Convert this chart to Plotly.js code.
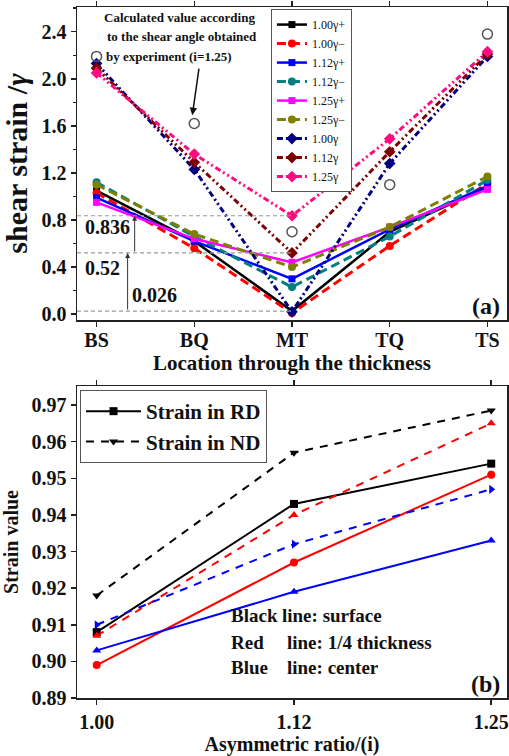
<!DOCTYPE html>
<html>
<head>
<meta charset="utf-8">
<script src="https://cdn.plot.ly/plotly-3.0.1.min.js"></script>
<style>html,body{margin:0;padding:0;background:#fff}#chart{width:509px;height:756px}</style>
</head>
<body>
<div id="chart"></div>
<script>
// ---- Panel (a) data ----
const locations = ['BS', 'BQ', 'MT', 'TQ', 'TS'];
const g100p = [1.05, 0.62, 0.026, 0.70, 1.08];
const g100m = [1.03, 0.56, 0.01, 0.58, 1.11];
const g112p = [0.99, 0.62, 0.30, 0.72, 1.09];
const g112m = [1.12, 0.66, 0.23, 0.66, 1.14];
const g125p = [0.95, 0.64, 0.44, 0.74, 1.06];
const g125m = [1.10, 0.68, 0.40, 0.74, 1.17];
const g100 = [2.13, 1.23, 0.02, 1.28, 2.19];
const g112 = [2.09, 1.29, 0.52, 1.38, 2.21];
const g125 = [2.05, 1.36, 0.836, 1.49, 2.23];
const calcExp = [2.19, 1.62, 0.70, 1.10, 2.38];
const seriesNames = ['1.00γ+', '1.00γ−', '1.12γ+', '1.12γ−', '1.25γ+', '1.25γ−', '1.00γ', '1.12γ', '1.25γ'];
const levels = [0.026, 0.52, 0.836];
const levelLabels = ['0.026', '0.52', '0.836'];

// ---- Panel (b) data ----
const ratios = ['1.00', '1.12', '1.25'];
const rdSurface = [0.908, 0.943, 0.954];
const rdQuarter = [0.899, 0.927, 0.951];
const rdCenter = [0.903, 0.919, 0.933];
const ndSurface = [0.918, 0.957, 0.9685];
const ndQuarter = [0.907, 0.940, 0.965];
const ndCenter = [0.910, 0.932, 0.947];

const FONT = 'Liberation Serif, Times New Roman, serif';
const dashDotDot = '6px,3px,2px,3px,2px,3px';

function line(y, name, color, dash, symbol, msize) {
  return {
    x: locations, y: y, name: name, type: 'scatter', mode: 'lines+markers',
    xaxis: 'x', yaxis: 'y', legend: 'legend',
    line: {color: color, width: dash === 'solid' ? 2.5 : 3, dash: dash},
    marker: {color: color, symbol: symbol, size: msize}
  };
}
const topSeries = [g100p, g100m, g112p, g112m, g125p, g125m, g100, g112, g125];
const colors = ['#000000', '#ff0000', '#0000ff', '#008080', '#ff00ff', '#808000', '#000080', '#800000', '#ff0a80'];
const dashes = ['solid', '9px,5px', 'solid', '9px,5px', 'solid', '9px,5px', dashDotDot, dashDotDot, dashDotDot];
const symbols = ['square', 'circle', 'square', 'circle', 'square', 'circle', 'diamond', 'diamond', 'diamond'];
const sizes = [7, 8, 7, 8, 7, 8, 9, 9, 9];
const traces = [];
for (let i = 8; i >= 0; i--) {
  traces.unshift(line(topSeries[i], seriesNames[i], colors[i], dashes[i], symbols[i], sizes[i]));
}
traces.push({
  x: locations, y: calcExp, type: 'scatter', mode: 'markers', showlegend: false,
  xaxis: 'x', yaxis: 'y',
  marker: {symbol: 'circle-open', size: 10, color: '#555555', line: {width: 1.5}}
});

function bline(y, color, dash, symbol, name, show) {
  return {
    x: ratios, y: y, type: 'scatter', mode: 'lines+markers', xaxis: 'x2', yaxis: 'y2',
    name: name, showlegend: show, legend: 'legend2',
    line: {color: color, width: 2, dash: dash},
    marker: {color: color, symbol: symbol, size: 8}
  };
}
traces.push(bline(rdSurface, '#000000', 'solid', 'square', 'Strain in RD', true));
traces.push(bline(ndSurface, '#000000', '8px,7px', 'triangle-down', 'Strain in ND', true));
traces.push(bline(rdQuarter, '#ff0000', 'solid', 'circle', '', false));
traces.push(bline(ndQuarter, '#ff0000', '8px,7px', 'triangle-up', '', false));
traces.push(bline(rdCenter, '#0000ff', 'solid', 'triangle-up', '', false));
traces.push(bline(ndCenter, '#0000ff', '8px,7px', 'triangle-right', '', false));

const axisCommon = {
  showline: true, linecolor: '#222', linewidth: 1.5, mirror: 'ticks',
  ticks: 'outside', ticklen: 5, tickwidth: 1.5, tickcolor: '#222',
  showgrid: false, zeroline: false,
  tickfont: {family: FONT, size: 20, weight: 'bold', color: '#111'}
};

const shapes = levels.map(v => ({
  type: 'line', xref: 'x', yref: 'y', x0: -0.2, x1: 2, y0: v, y1: v,
  line: {color: '#999999', width: 1.2, dash: '4px,3px'}
}));

const bold = (s, t, x, y, xa, extra) => Object.assign({
  text: t, x: x, y: y, xref: 'x', yref: 'y', showarrow: false, xanchor: xa || 'center',
  font: {family: FONT, size: s, weight: 'bold', color: '#111'}
}, extra || {});

const annotations = [
  bold(13, 'Calculated value according', 0.06, 2.52, 'left'),
  bold(13, 'to the shear angle obtained', 0.09, 2.36, 'left'),
  bold(13, 'by experiment (i=1.25)', 0.08, 2.19, 'left'),
  {x: 0.98, y: 1.69, xref: 'x', yref: 'y', ax: 1.05, ay: 2.10, axref: 'x', ayref: 'y',
   text: '', showarrow: true, arrowhead: 2, arrowsize: 1, arrowwidth: 1.5, arrowcolor: '#111'},
  {x: 0.318, y: levels[1], xref: 'x', yref: 'y', ax: 0.318, ay: levels[0], axref: 'x', ayref: 'y',
   text: '', showarrow: true, arrowhead: 2, arrowsize: 1, arrowwidth: 1, arrowcolor: '#333'},
  {x: 0.39, y: levels[2], xref: 'x', yref: 'y', ax: 0.39, ay: levels[1], axref: 'x', ayref: 'y',
   text: '', showarrow: true, arrowhead: 2, arrowsize: 1, arrowwidth: 1, arrowcolor: '#333'},
  bold(20, levelLabels[2], 0.11, 0.74),
  bold(20, levelLabels[1], 0.06, 0.39),
  bold(20, levelLabels[0], 0.595, 0.16),
  bold(24, '(a)', 3.98, 0.07),
  bold(19, 'Black', 0.67, 0.9125, 'left', {xref: 'x2', yref: 'y2'}),
  bold(19, 'line: surface', 0.93, 0.9125, 'left', {xref: 'x2', yref: 'y2'}),
  bold(19, 'Red', 0.67, 0.9052, 'left', {xref: 'x2', yref: 'y2'}),
  bold(19, 'line: 1/4 thickness', 0.955, 0.9052, 'left', {xref: 'x2', yref: 'y2'}),
  bold(19, 'Blue', 0.67, 0.8982, 'left', {xref: 'x2', yref: 'y2'}),
  bold(19, 'line: center', 0.955, 0.8982, 'left', {xref: 'x2', yref: 'y2'}),
  bold(24, '(b)', 1.97, 0.8938, 'center', {xref: 'x2', yref: 'y2'})
];

const layout = {
  width: 509, height: 756,
  margin: {l: 77, r: 2, t: 7, b: 58},
  paper_bgcolor: '#fff', plot_bgcolor: '#fff',
  font: {family: FONT, color: '#111'},
  showlegend: true,
  xaxis: Object.assign({}, axisCommon, {
    type: 'category', range: [-0.2, 4.2], anchor: 'y', domain: [0, 1], ticklabelstandoff: -4,
    title: {text: 'Location through the thickness', standoff: 2,
      font: {family: FONT, size: 21, weight: 'bold', color: '#111'}}
  }),
  yaxis: Object.assign({}, axisCommon, {
    range: [-0.05, 2.61], dtick: 0.4, tick0: 0, tickformat: '.1f', domain: [0.547, 1], anchor: 'x',
    minor: {ticks: 'outside', dtick: 0.2, ticklen: 3, tickcolor: '#222'},
    title: {text: 'shear strain /<i>γ</i>', standoff: 8,
      font: {family: FONT, size: 30, weight: 'bold', color: '#111'}}
  }),
  xaxis2: Object.assign({}, axisCommon, {
    type: 'category', range: [-0.1, 2.08], anchor: 'y2', domain: [0, 1],
    title: {text: 'Asymmetric ratio/(i)', standoff: 6,
      font: {family: FONT, size: 20, weight: 'bold', color: '#111'}}
  }),
  yaxis2: Object.assign({}, axisCommon, {
    range: [0.89, 0.9752], dtick: 0.01, tick0: 0.89, tickformat: '.2f', domain: [0, 0.4515], anchor: 'x2',
    title: {text: 'Strain value', standoff: 12,
      font: {family: FONT, size: 20, weight: 'bold', color: '#111'}}
  }),
  legend: {
    x: 0.451, y: 0.997, xanchor: 'left', yanchor: 'top',
    bgcolor: '#fff', bordercolor: '#555', borderwidth: 1,
    font: {family: FONT, size: 12, color: '#111'}, tracegroupgap: 0
  },
  legend2: {
    x: 0.007, y: 0.4457, xanchor: 'left', yanchor: 'top', itemwidth: 55,
    bgcolor: '#fff', bordercolor: '#555', borderwidth: 1,
    font: {family: FONT, size: 21, weight: 'bold', color: '#111'}
  },
  shapes: shapes,
  annotations: annotations
};

Plotly.newPlot('chart', traces, layout, {displayModeBar: false, staticPlot: true});
</script>
</body>
</html>
